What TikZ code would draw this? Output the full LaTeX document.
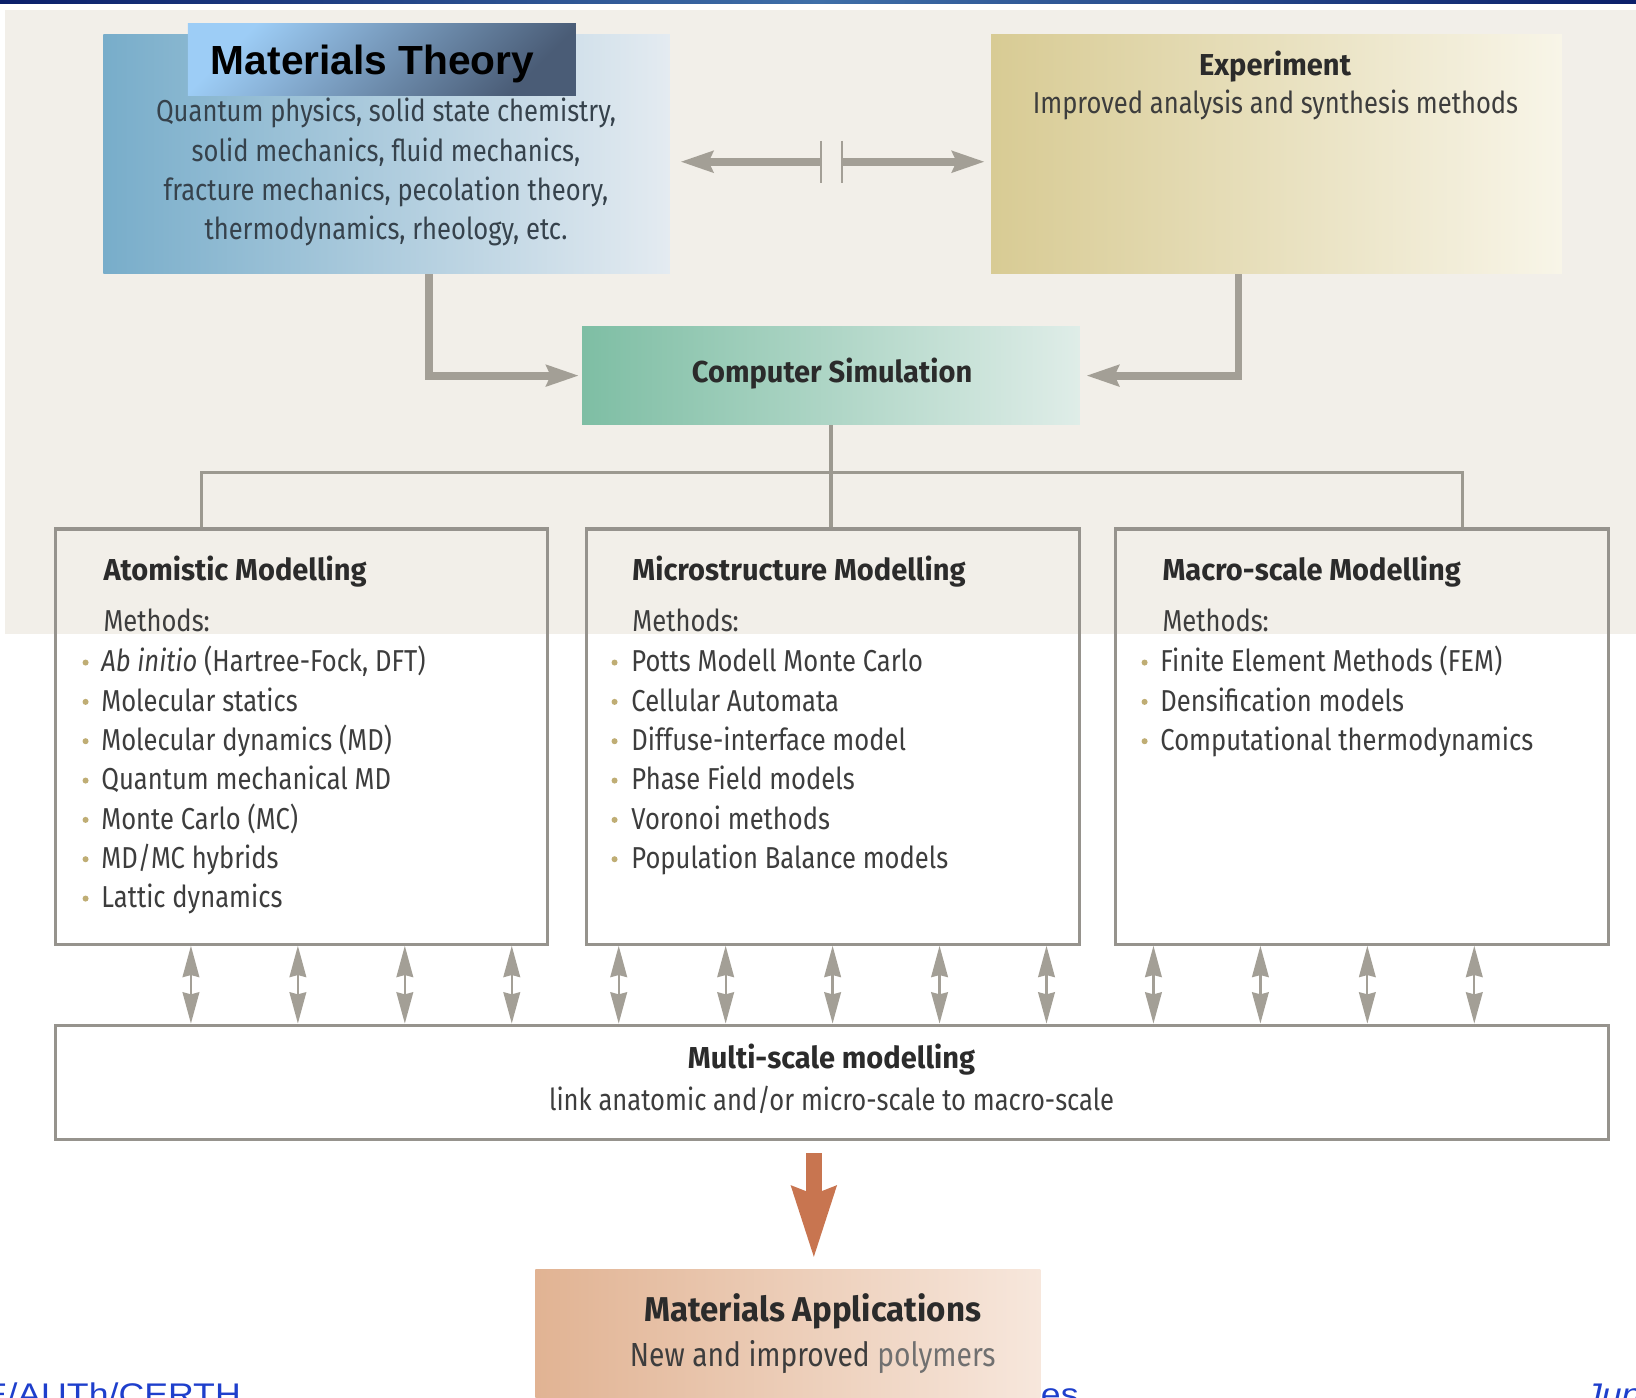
\documentclass[tikz,border=0pt]{standalone}
\usepackage{fontspec}
\setmainfont{Fira Sans}[FakeStretch=0.845, BoldFeatures={FakeStretch=0.96}]
\newfontfamily\arialf{Liberation Sans}[FakeStretch=1.14]
\usetikzlibrary{arrows.meta,calc}

\definecolor{bgbeige}{HTML}{F2EFE9}
\definecolor{navy}{HTML}{0B1F6A}
\definecolor{stripblue}{HTML}{3F6FA8}
\definecolor{garr}{HTML}{A39F96}
\definecolor{treeline}{HTML}{9C9990}
\definecolor{boxline}{HTML}{96938D}
\definecolor{txt}{HTML}{3D3D3D}
\definecolor{hd}{HTML}{2B2B2B}
\definecolor{mttxt}{HTML}{36424C}
\definecolor{bul}{HTML}{BFAD74}
\definecolor{orng}{HTML}{C87550}
\definecolor{foot}{HTML}{1E3FCC}
\definecolor{mtA}{HTML}{78ADCA}
\definecolor{mtB}{HTML}{B2CFE0}
\definecolor{mtC}{HTML}{E4EBF1}
\definecolor{lbA}{HTML}{9DCDF6}
\definecolor{lbB}{HTML}{4A5C76}
\definecolor{exA}{HTML}{D8CB94}
\definecolor{exB}{HTML}{EAE2BF}
\definecolor{exC}{HTML}{F8F5E8}
\definecolor{csA}{HTML}{7EBEA4}
\definecolor{csB}{HTML}{ACD5C4}
\definecolor{csC}{HTML}{DFEDE8}
\definecolor{apA}{HTML}{E1B393}
\definecolor{apB}{HTML}{EDCDB7}
\definecolor{apC}{HTML}{F7E7DC}
\definecolor{softgray}{HTML}{707070}

\begin{document}
\begin{tikzpicture}[x=1pt,y=-1pt,
  panel/.style={rectangle, inner sep=0pt, draw=none},
  modelbox/.style={rectangle, inner sep=0pt, draw=boxline, line width=3pt},
  body/.style={inner sep=0pt, text=txt, font=\fontsize{29}{38}\selectfont},
  mtbody/.style={inner sep=0pt, text=mttxt, font=\fontsize{29}{38}\selectfont},
  head/.style={inner sep=0pt, text=hd, font=\fontsize{29}{38}\selectfont\bfseries},
  foottext/.style={inner sep=0pt, text=foot, font=\arialf\fontsize{30}{30}\selectfont},
  garrow/.style={draw=garr, line width=7.5pt, -{Stealth[length=31pt,width=20pt,inset=4pt]}},
  tick/.style={draw=garr, line width=2.5pt},
  tree/.style={draw=treeline, line width=3pt},
  linkarrow/.style={draw=garr, line width=2.2pt,
     {Stealth[length=30pt,width=16pt,inset=2pt]}-{Stealth[length=30pt,width=16pt,inset=2pt]}},
  oarrow/.style={draw=orng, line width=15pt, -{Stealth[length=68pt,width=40pt,inset=6pt]}}
]
\useasboundingbox (0,0) rectangle (1568,1339);
\clip (0,0) rectangle (1568,1339);

% page background, header strip and beige panel
\fill[white] (0,0) rectangle (1568,1339);
\shade[left color=navy, right color=navy, middle color=stripblue] (0,0) rectangle (1568,3);
\fill[bgbeige] (5,10) rectangle (1568,608);

% footer line (partly hidden behind the applications box)
\node[foottext, anchor=base east] (footl) at (231,1347) {E/AUTh/CERTH};
\node[foottext, anchor=base east] (footm) at (1034,1347) {es};
\node[foottext, anchor=base west, font=\arialf\itshape\fontsize{30}{30}\selectfont] (footr) at (1518,1347) {Jun};

% ---- top row -------------------------------------------------------------
\node[panel, minimum width=543pt, minimum height=229.6pt,
      left color=mtA, middle color=mtB, right color=mtC] (mt) at (370.5,147.8) {};
\node[panel, minimum width=372pt, minimum height=69pt,
      top color=lbA, bottom color=lbB, shading angle=45] (mtlabel) at (366,57.5) {};
\node[inner sep=0pt, anchor=base west, text=black,
      font=\arialf\bfseries\fontsize{39}{39}\selectfont\addfontfeatures{FakeStretch=1.0}] (mttitle) at (202,71) {Materials Theory};
\foreach \t [count=\i] in {{Quantum physics, solid state chemistry,},
                           {solid mechanics, fluid mechanics,},
                           {fracture mechanics, pecolation theory,},
                           {thermodynamics, rheology, etc.}}
  \node[mtbody, anchor=base] (mtl\i) at (370, {116.6+37.8*(\i-1)}) {\t};

\node[panel, minimum width=547pt, minimum height=229.6pt,
      left color=exA, middle color=exB, right color=exC] (exp) at (1223.5,147.8) {};
\node[head, anchor=base] (exptitle) at (1222,72) {Experiment};
\node[body, anchor=base] (expsub) at (1222.5,108.6) {Improved analysis and synthesis methods};

% broken two-way link between theory and experiment
\coordinate (brkL) at (787,155);
\coordinate (brkR) at (807,155);
\draw[garrow, shorten >=10pt] (brkL) -- (mt.east |- brkL);
\draw[garrow, shorten >=6pt] (brkR) -- (exp.west |- brkR);
\draw[tick] ($(brkL)+(0,-20)$) -- ($(brkL)+(0,20)$);
\draw[tick] ($(brkR)+(0,-20)$) -- ($(brkR)+(0,20)$);

% ---- computer simulation ---------------------------------------------------
\node[panel, minimum width=477pt, minimum height=94pt,
      left color=csA, middle color=csB, right color=csC] (cs) at (796.5,360) {};
\node[head, anchor=base] (cstitle) at (797.5,367) {Computer Simulation};

\coordinate (mtdrop) at (411.5,0);
\coordinate (exdrop) at (1187,0);
\draw[garrow, shorten >=3pt] (mt.south -| mtdrop) |- (cs.west);
\draw[garrow, shorten >=6pt] (exp.south -| exdrop) |- (cs.east);

% ---- three modelling scales -------------------------------------------------
\node[modelbox, minimum width=472pt, minimum height=398pt] (atom)  at (289,706) {};
\node[modelbox, minimum width=473pt, minimum height=398pt] (micro) at (798.5,706) {};
\node[modelbox, minimum width=473pt, minimum height=398pt] (macro) at (1305.5,706) {};

\coordinate (busL) at (193,453);
\coordinate (busR) at (1402,453);
\draw[tree] (cs.south) -- (cs.south |- micro.north);
\draw[tree] (atom.north -| busL) -- (busL) -- (busR) -- (macro.north -| busR);

% atomistic
\node[head, anchor=base west] (atomhd) at (99,556) {Atomistic Modelling};
\node[body, anchor=base west] (atomm) at (99,605.4) {Methods:};
\foreach \t [count=\i] in {{\textit{Ab initio} (Hartree-Fock, DFT)}, Molecular statics,
    Molecular dynamics (MD), Quantum mechanical MD, Monte Carlo (MC), MD/MC hybrids,
    Lattic dynamics} {
  \node[body, anchor=base west] (ai\i) at (97, {644+37.7*(\i-1)}) {\t};
  \fill[bul] (82, {644+37.7*(\i-1)-9}) circle (2.9pt);
}

% microstructure
\node[head, anchor=base west] (microhd) at (606,556) {Microstructure Modelling};
\node[body, anchor=base west] (microm) at (606,605.4) {Methods:};
\foreach \t [count=\i] in {Potts Modell Monte Carlo, Cellular Automata,
    Diffuse-interface model, Phase Field models, Voronoi methods,
    Population Balance models} {
  \node[body, anchor=base west] (mi\i) at (605, {644+37.7*(\i-1)}) {\t};
  \fill[bul] (589, {644+37.7*(\i-1)-9}) circle (2.9pt);
}

% macro-scale
\node[head, anchor=base west] (macrohd) at (1114,556) {Macro-scale Modelling};
\node[body, anchor=base west] (macrom) at (1114,605.4) {Methods:};
\foreach \t [count=\i] in {Finite Element Methods (FEM), Densification models,
    Computational thermodynamics} {
  \node[body, anchor=base west] (ma\i) at (1112, {644+37.7*(\i-1)}) {\t};
  \fill[bul] (1097, {644+37.7*(\i-1)-9}) circle (2.9pt);
}

% ---- multi-scale coupling ------------------------------------------------------
\node[modelbox, minimum width=1489pt, minimum height=110pt] (multi) at (797.5,1037.5) {};
\node[head, anchor=base] (multihd) at (797,1024) {Multi-scale modelling};
\node[body, anchor=base] (multisub) at (797,1064) {link anatomic and/or micro-scale to macro-scale};

\foreach \x/\b [count=\i] in {183/atom, 285.5/atom, 388/atom, 490.5/atom,
    593/micro, 695.5/micro, 798/micro, 900.5/micro, 1003/micro,
    1105.5/macro, 1208/macro, 1310.5/macro, 1413/macro} {
  \coordinate (lk\i) at (\x,0);
  \draw[linkarrow] (\b.south -| lk\i) -- (multi.north -| lk\i);
}

% ---- applications --------------------------------------------------------------
\node[panel, minimum width=484pt, minimum height=143.4pt,
      left color=apA, middle color=apB, right color=apC] (apps) at (755,1288.3) {};
\node[head, anchor=base, font=\fontsize{33}{38}\selectfont\bfseries] (appshd) at (779,1266.7) {Materials Applications};
\node[body, anchor=base, font=\fontsize{32}{38}\selectfont] (appssub) at (779,1310) {New and improved \textcolor{softgray}{polymers}};

\coordinate (oa) at (780,0);
\draw[oarrow, shorten <=11.4pt, shorten >=9.6pt] (multi.south -| oa) -- (apps.north -| oa);
\end{tikzpicture}
\end{document}
